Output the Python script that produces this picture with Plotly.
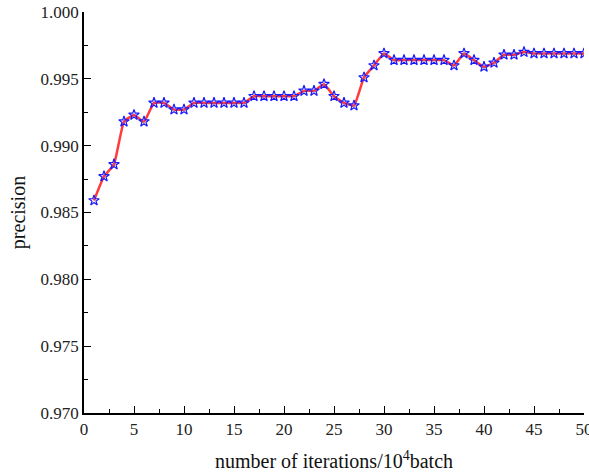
import plotly.graph_objects as go

iterations = list(range(1, 51))
precision = [
    0.9859, 0.9877, 0.9886, 0.9918, 0.9923, 0.9918, 0.9932, 0.9932, 0.9927, 0.9927,
    0.9932, 0.9932, 0.9932, 0.9932, 0.9932, 0.9932, 0.9937, 0.9937, 0.9937, 0.9937,
    0.9937, 0.9941, 0.9941, 0.9946, 0.9937, 0.9932, 0.9930, 0.9951, 0.9960, 0.9969,
    0.9964, 0.9964, 0.9964, 0.9964, 0.9964, 0.9964, 0.9960, 0.9969, 0.9964, 0.9959,
    0.9962, 0.9968, 0.9968, 0.9970, 0.9969, 0.9969, 0.9969, 0.9969, 0.9969, 0.9969,
]
x_ticks = [0, 5, 10, 15, 20, 25, 30, 35, 40, 45, 50]
y_ticks = [0.970, 0.975, 0.980, 0.985, 0.990, 0.995, 1.000]
y_tick_labels = ["0.970", "0.975", "0.980", "0.985", "0.990", "0.995", "1.000"]

FONT = "Liberation Serif, Times New Roman, serif"

fig = go.Figure()
fig.add_trace(go.Scatter(
    x=iterations, y=precision, mode="lines+markers",
    line=dict(color="#ff3b3b", width=2.5, shape="spline", smoothing=0.4),
    marker=dict(symbol="star-open", size=8, color="#1a1aff", line=dict(width=1.2, color="#1a1aff")),
    showlegend=False,
))

axis_common = dict(
    showline=True, linecolor="black", linewidth=1.5, mirror=False,
    showgrid=False, zeroline=False, automargin=False,
    ticks="inside", ticklen=7, tickwidth=1.2, tickcolor="black",
    tickfont=dict(family=FONT, size=17, color="#222"),
    ticklabeloverflow="allow",
)

fig.update_layout(
    width=589, height=476,
    margin=dict(l=84, r=5, t=12, b=63),
    paper_bgcolor="white", plot_bgcolor="white",
    font=dict(family=FONT, color="#111"),
    xaxis=dict(
        range=[0, 50], tickvals=x_ticks,
        minor=dict(dtick=2.5, ticks="inside", ticklen=4, tickcolor="black", tickwidth=1),
        title=dict(text="number of iterations/10<sup>4</sup>batch", font=dict(family=FONT, size=20), standoff=16),
        **axis_common,
    ),
    yaxis=dict(
        range=[0.970, 1.000], tickvals=y_ticks, ticktext=y_tick_labels,
        minor=dict(dtick=0.0025, ticks="inside", ticklen=4, tickcolor="black", tickwidth=1),
        title=dict(text="precision", font=dict(family=FONT, size=20), standoff=10),
        **axis_common,
    ),
)

fig.write_html(
    "out.html",
    config={"displayModeBar": False},
    post_script="document.body.style.margin='0';document.body.style.overflow='hidden';",
)
